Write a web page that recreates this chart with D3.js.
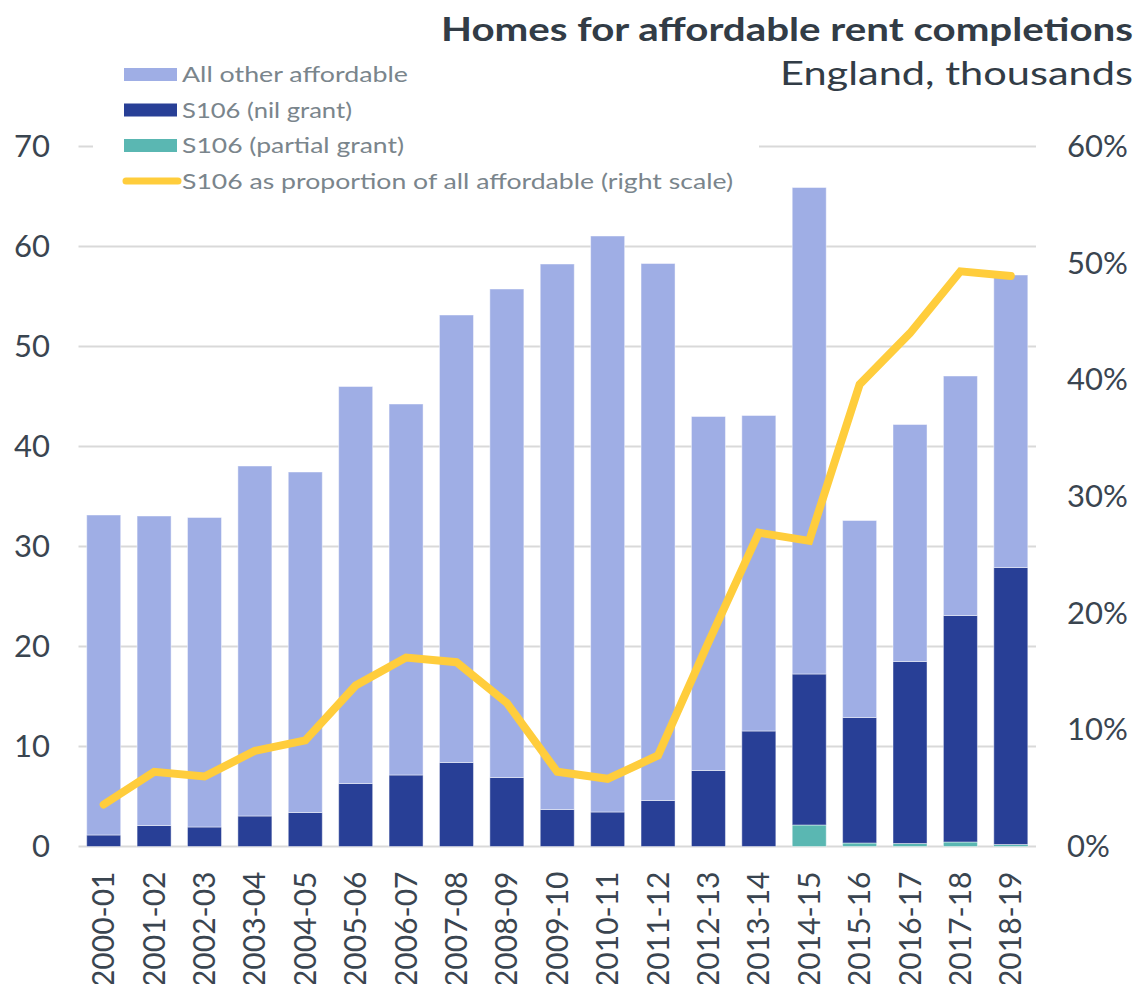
<!DOCTYPE html>
<html>
<head>
<meta charset="utf-8">
<script src="https://cdn.jsdelivr.net/npm/d3@7"></script>
<style>
  html, body { margin: 0; padding: 0; background: #fff; }
  svg { display: block; font-family: "Lato", "Open Sans", sans-serif; }
</style>
</head>
<body>
<svg id="chart" width="1139" height="984"></svg>
<script>
// Financial years
const years = ["2000-01","2001-02","2002-03","2003-04","2004-05","2005-06","2006-07",
  "2007-08","2008-09","2009-10","2010-11","2011-12","2012-13","2013-14","2014-15",
  "2015-16","2016-17","2017-18","2018-19"];

// Completions, thousands
const partialGrant = [0,0,0,0,0,0,0,0,0,0,0,0,0,0,2.15,0.35,0.3,0.45,0.2];
const nilGrant = [1.15,2.1,1.95,3.05,3.4,6.3,7.15,8.4,6.9,3.7,3.45,4.6,7.6,11.55,15.1,12.55,18.2,22.65,27.7];
const otherAffordable = [32.0,30.95,30.95,35.0,34.05,39.7,37.1,44.75,48.85,54.55,57.6,53.7,35.4,31.55,48.65,19.7,23.7,23.95,29.25];

// S106 share of all affordable, percent (right scale)
const s106Share = [3.6,6.4,6.0,8.2,9.1,13.8,16.2,15.8,12.3,6.4,5.8,7.8,17.5,26.9,26.2,39.6,44.0,49.3,48.9];

const leftTicks = [0,10,20,30,40,50,60,70];
const rightTicks = [0,10,20,30,40,50,60];

const seriesNames = ["All other affordable","S106 (nil grant)","S106 (partial grant)",
  "S106 as proportion of all affordable (right scale)"];
const colors = { other: "#9FAEE5", nil: "#283F96", partial: "#5AB7B2", line: "#FFCD3C" };

const svg = d3.select("#chart");
const plot = { left: 78.5, right: 1036, top: 146.5, bottom: 846.5 };

const x = d3.scaleBand().domain(years).range([plot.left, plot.right]).paddingInner(0.325).paddingOuter(0.1625);
const y = d3.scaleLinear().domain([0,70]).range([plot.bottom, plot.top]);
const y2 = d3.scaleLinear().domain([0,60]).range([plot.bottom, plot.top]);

// Gridlines
svg.append("g").selectAll("line").data(leftTicks).join("line")
  .attr("x1", plot.left).attr("x2", plot.right)
  .attr("y1", d => y(d)).attr("y2", d => y(d))
  .attr("stroke", "#D9D9D9").attr("stroke-width", 2);

// Stacked bars
const rows = years.map((yr, i) => ({ year: yr, partial: partialGrant[i], nil: nilGrant[i], other: otherAffordable[i] }));
const stack = d3.stack().keys(["partial","nil","other"])(rows);
svg.append("g").selectAll("g").data(stack).join("g")
  .attr("fill", d => colors[d.key])
  .selectAll("rect").data(d => d.filter(s => s[1] - s[0] > 0)).join("rect")
  .attr("x", d => x(d.data.year))
  .attr("width", x.bandwidth())
  .attr("y", d => y(d[1]))
  .attr("height", d => y(d[0]) - y(d[1]))
  .attr("stroke", "rgba(255,255,255,0.45)").attr("stroke-width", 1);

// Share line
const line = d3.line().x((d, i) => x(years[i]) + x.bandwidth() / 2).y(d => y2(d));
svg.append("path").datum(s106Share)
  .attr("d", line).attr("fill", "none")
  .attr("stroke", colors.line).attr("stroke-width", 8)
  .attr("stroke-linecap", "round").attr("stroke-linejoin", "miter");

// Left axis
const leftAxis = d3.axisLeft(y).tickValues(leftTicks).tickSize(0).tickPadding(0);
svg.append("g").attr("transform", "translate(50,0)").call(leftAxis)
  .call(g => g.select(".domain").remove())
  .selectAll("text").attr("font-size", 31).attr("fill", "#3A4550")
  .attr("font-family", "Lato, sans-serif");

// Right axis
const rightAxis = d3.axisRight(y2).tickValues(rightTicks).tickFormat(d => d + "%").tickSize(0).tickPadding(0);
svg.append("g").attr("transform", "translate(1067,0)").call(rightAxis)
  .call(g => g.select(".domain").remove())
  .selectAll("text").attr("font-size", 31).attr("fill", "#3A4550")
  .attr("font-family", "Lato, sans-serif");

// Category axis, vertical labels
const xAxis = d3.axisBottom(x).tickSize(0).tickPadding(0);
svg.append("g").attr("transform", `translate(0,${plot.bottom})`).call(xAxis)
  .call(g => g.select(".domain").remove())
  .selectAll("text")
  .attr("font-size", 30).attr("fill", "#3A4550").attr("font-family", "Lato, sans-serif")
  .attr("text-anchor", "end").attr("dy", "0.35em")
  .attr("transform", "translate(0,25) rotate(-90)")
  .attr("x", 0).attr("y", 0);

// Legend
const legend = svg.append("g");
legend.append("rect").attr("x", 93).attr("y", 56).attr("width", 666).attr("height", 142).attr("fill", "#fff");
const legendRows = [
  { name: seriesNames[0], color: colors.other, type: "rect", cy: 74.5, len: 226 },
  { name: seriesNames[1], color: colors.nil, type: "rect", cy: 110, len: 170 },
  { name: seriesNames[2], color: colors.partial, type: "rect", cy: 145.5, len: 222 },
  { name: seriesNames[3], color: colors.line, type: "line", cy: 181, len: 551 }
];
legendRows.forEach(r => {
  if (r.type === "rect") {
    legend.append("rect").attr("x", 124).attr("y", r.cy - 6.5).attr("width", 53).attr("height", 13).attr("fill", r.color);
  } else {
    legend.append("line").attr("x1", 126).attr("x2", 178).attr("y1", r.cy).attr("y2", r.cy)
      .attr("stroke", r.color).attr("stroke-width", 7).attr("stroke-linecap", "round");
  }
  legend.append("text").attr("x", 182).attr("y", r.cy).attr("dy", "0.35em")
    .attr("font-size", 22).attr("fill", "#7A858C")
    .attr("textLength", r.len).attr("lengthAdjust", "spacingAndGlyphs")
    .text(r.name);
});

// Titles
svg.append("text").attr("x", 1133).attr("y", 41).attr("text-anchor", "end")
  .attr("font-size", 33).attr("font-weight", "bold").attr("fill", "#323C46")
  .attr("textLength", 692).attr("lengthAdjust", "spacingAndGlyphs")
  .text("Homes for affordable rent completions");
svg.append("text").attr("x", 1133).attr("y", 85).attr("text-anchor", "end")
  .attr("font-size", 33).attr("fill", "#323C46")
  .attr("textLength", 353).attr("lengthAdjust", "spacingAndGlyphs")
  .text("England, thousands");
</script>
</body>
</html>
